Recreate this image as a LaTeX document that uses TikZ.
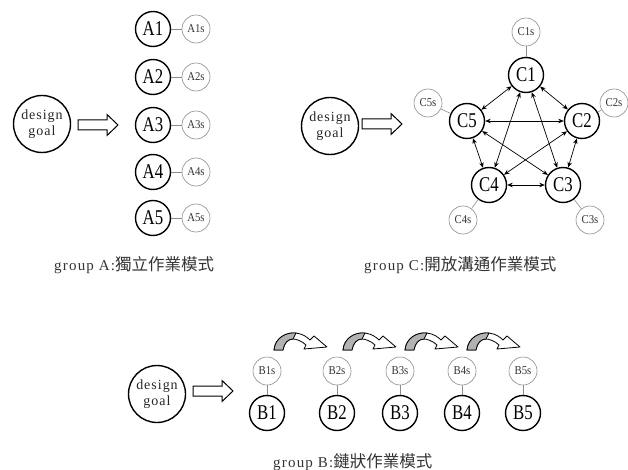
\documentclass[tikz,border=0pt]{standalone}
\usepackage{fontspec}
\setmainfont{Liberation Serif}
\newfontfamily\lblfont{Liberation Serif}[FakeStretch=0.8]
\newfontfamily\subfont{Liberation Serif}[FakeStretch=0.9]
\newfontfamily\spacedfont{Liberation Serif}[LetterSpace=7]
\newfontfamily\capfont{Liberation Serif}[LetterSpace=8]
\newfontfamily\cjkfont{Noto Sans CJK TC}
\usetikzlibrary{arrows.meta}

\tikzset{
  member/.style={circle, draw=black, line width=1.4pt, minimum size=35pt, inner sep=0pt,
    font=\lblfont\fontsize{21}{21}\selectfont},
  sub/.style={circle, draw=black!45, line width=0.6pt, minimum size=28pt, inner sep=0pt,
    font=\subfont\fontsize{12}{12}\selectfont, text=black!80},
  goal/.style={circle, draw=black, line width=1.4pt, minimum size=57pt, inner sep=0pt,
    align=center, font=\spacedfont\fontsize{14}{16}\selectfont, text=black!85},
  link/.style={draw=black!45, line width=0.6pt},
  both/.style={<->, >={Stealth[length=5.5pt,width=4.5pt]}, line width=0.7pt},
  caption/.style={anchor=west, inner sep=0pt, text=black!80},
  hollow/.pic={
    \draw[line width=1pt, fill=white]
      (0,-5) -- (29,-5) -- (29,-10.5) -- (40,0) -- (29,10.5) -- (29,5) -- (0,5) -- cycle;
  },
  curvy/.pic={
    \draw[line width=0.8pt, fill=white, line join=round]
      (0,0) .. controls (1,-12) and (12,-18) .. (22,-17)
      .. controls (29,-16) and (33,-13) .. (36,-10)
      -- (40,-14) -- (53,-3) -- (30,-1) -- (32,-5)
      .. controls (28,-9) and (22,-11) .. (19,-11)
      .. controls (14,-11) and (10,-7) .. (9,0) -- cycle;
    \draw[line width=0.8pt, fill=black!30, line join=round]
      (0,0) .. controls (1,-12) and (12,-18) .. (22,-17)
      -- (19,-11) .. controls (14,-11) and (10,-7) .. (9,0) -- cycle;
  }
}
\newcommand{\latinpart}[1]{{\capfont\fontsize{15}{15}\selectfont #1}}
\newcommand{\cjkpart}[1]{{\cjkfont\fontsize{16.5}{16.5}\selectfont #1}}

\begin{document}
\begin{tikzpicture}[x=1pt, y=-1pt]
\useasboundingbox (0,0) rectangle (628,470);

% ---------- group A: independent work ----------
\node[goal] (gA) at (42,124) {design\\goal};
\pic at (78,125) {hollow};
\foreach \i/\y in {1/29, 2/77, 3/125, 4/172, 5/218} {
  \node[member] (A\i) at (153,\y) {A\i};
  \node[sub] (A\i s) at (196,\y) {A\i s};
  \draw[link] (A\i) -- (A\i s);
}
\node[caption] (capA) at (54,265) {\latinpart{group A:}\cjkpart{獨立作業模式}};

% ---------- group C: open communication ----------
\node[goal] (gC) at (330,126) {design\\goal};
\pic at (362,124) {hollow};
\node[member] (C1) at (526,75) {C1};
\node[member] (C2) at (582,121) {C2};
\node[member] (C3) at (563,185) {C3};
\node[member] (C4) at (489,185) {C4};
\node[member] (C5) at (467,121) {C5};
\node[sub] (C1s) at (526,32) {C1s};
\node[sub] (C2s) at (614,103) {C2s};
\node[sub] (C3s) at (590,220) {C3s};
\node[sub] (C4s) at (463,220) {C4s};
\node[sub] (C5s) at (428,103) {C5s};
\foreach \i in {1,...,5} { \draw[link] (C\i) -- (C\i s); }
\foreach \a/\b in {1/2, 2/3, 3/4, 4/5, 5/1, 1/3, 1/4, 2/4, 2/5, 3/5} {
  \draw[both] (C\a) -- (C\b);
}
\node[caption] (capC) at (364,265) {\latinpart{group C:}\cjkpart{開放溝通作業模式}};

% ---------- group B: chained work ----------
\node[goal] (gB) at (157,394) {design\\goal};
\pic at (193,391) {hollow};
\foreach \i/\x in {1/267, 2/337, 3/400, 4/462, 5/523} {
  \node[member] (B\i) at (\x,413) {B\i};
  \node[sub] (B\i s) at (\x,371) {B\i s};
  \draw[link] (B\i) -- (B\i s);
}
\foreach \x in {274, 343, 405, 467} { \pic at (\x,350) {curvy}; }
\node[caption] (capB) at (273,462) {\latinpart{group B:}\cjkpart{鏈狀作業模式}};
\end{tikzpicture}
\end{document}
